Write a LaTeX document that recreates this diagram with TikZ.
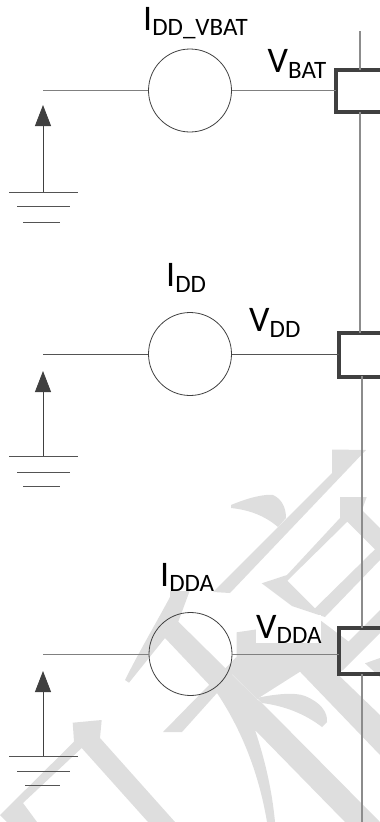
\documentclass[tikz,border=0pt]{standalone}
\usepackage{fontspec}
\setmainfont{Carlito}
\usepackage{tikz}
\usetikzlibrary{arrows.meta}
\definecolor{wmark}{RGB}{222,222,222}
\definecolor{darkline}{RGB}{64,64,64}
\newcommand{\lbl}[2]{#1\raisebox{-0.15em}{\fontsize{25}{28}\selectfont #2}}
\tikzset{
  srccirc/.style={circle,draw=darkline,line width=0.8pt,minimum size=83pt,inner sep=0pt},
  padbox/.style={rectangle,draw=darkline,line width=3.6pt,minimum width=74pt,inner sep=0pt,outer sep=0pt},
  txt/.style={anchor=base west,fill=white,inner sep=0pt,font=\fontsize{36}{39}\selectfont},
  wire/.style={draw=gray,line width=1pt},
  rail/.style={draw=gray!90,line width=1.3pt},
  sense/.style={draw=darkline,line width=0.9pt,-{Triangle[length=21pt,width=16pt]}},
  gnd/.style={draw=darkline!90,line width=0.8pt}
}
\begin{document}
\begin{tikzpicture}[x=1pt,y=-1pt]
     \useasboundingbox (0,0) rectangle (380,822);
     \clip (0,0) rectangle (380,822);
     % watermark
     \fill[wmark] (332,449.5) -- (366,450) -- (230,593) -- (213,592) -- (332,473) -- cycle;
     \fill[wmark] (231,505) .. controls (250,497) and (265,494) .. (273,495) .. controls (282,499) and (286,508) .. (286,518) -- (278,527) .. controls (265,516) and (250,510) .. (231,508) -- cycle;
     \fill[wmark,even odd rule] (340,497) -- (366.7,497) -- (362,510) -- (380,528) -- (380,560) -- (325,617) -- (292,606) -- (261.7,583.3) -- (287,575) -- (340,518) -- cycle
        (347.3,521.7) -- (375,549.3) -- (315,608.3) -- (287.3,580.7) -- cycle;
     \fill[wmark] (170,590) -- (190,590) -- (178.3,621.7) -- (256.7,699) -- (262,703) -- (380,822) -- (345,822) -- (255,730) .. controls (265,760) and (272,790) .. (275,822) -- (267,822) .. controls (260,780) and (245,735) .. (217,693) -- (165,638) -- (129,682.7) -- (125,680) .. controls (140,650) and (155,625) .. (170,597) -- cycle;
     \fill[wmark] (256.7,698) .. controls (275,694) and (295,692) .. (305,696) .. controls (320,702) and (328,712) .. (327,722) -- (322,727) .. controls (305,714) and (285,706) .. (262,703) -- cycle;
     \fill[wmark] (163,732) -- (182,732) -- (217,693) -- (236,670) -- (236.7,656.7) -- cycle;
     \fill[wmark] (236.7,632.3) -- (320,620) -- (348.5,641.5) -- (380,610) -- (380,633) -- (343,670) -- (336.7,673.3) -- (380,715) -- (380,755) -- (300,671.7) -- (257,699) -- (232,674) -- (236.7,656.7) -- cycle;
     \fill[wmark] (365,663.3) -- (380,658) -- (380,677) -- cycle;
     \fill[wmark] (0,815) -- (74,741.7) -- (72.7,722.7) -- (101.7,720) -- (100,738) -- (175,822) -- (148,822) -- (81.7,748) -- (23,803) -- (37,822) -- (7,822) -- cycle;
     % sources, pads
     \node[srccirc] (src1) at (190,90.5) {};
     \node[srccirc] (src2) at (190,354) {};
     \node[srccirc] (src3) at (190.5,654) {};
     \node[padbox,minimum height=42pt] (pad1) at (373,91) {};
     \node[padbox,minimum height=44pt] (pad2) at (375.7,355) {};
     \node[padbox,minimum height=46pt] (pad3) at (375.7,651) {};
     \coordinate (in1) at (43,90.5);
     \coordinate (in2) at (43,354);
     \coordinate (in3) at (43,654);
     \coordinate (tip1) at (43,105);
     \coordinate (tip2) at (43,371);
     \coordinate (tip3) at (43,671);
     \coordinate (gnd1) at (43,192);
     \coordinate (gnd2) at (43,456);
     \coordinate (gnd3) at (43,756);
     \coordinate (railtop) at (360,31);
     \coordinate (railmid) at (362,376);
     \coordinate (railend) at (362,822);
     % wires
     \draw[wire] (in1) -- (src1);
     \draw[wire] (src1) -- (src1 -| pad1.west);
     \draw[wire,draw=darkline!90] (in2) -- (src2);
     \draw[wire,draw=darkline!90] (src2) -- (src2 -| pad2.west);
     \draw[wire] (in3) -- (src3);
     \draw[wire] (src3) -- (src3 -| pad3.west);
     \draw[rail] (railtop) -- (railtop |- pad1.north);
     \draw[rail] (railtop |- pad1.south) -- (railtop |- pad2.north);
     \draw[rail] (railmid) -- (railmid |- pad3.north);
     \draw[rail] (railmid |- pad3.south) -- (railend);
     % arrows, grounds
     \draw[sense] (gnd1) -- (tip1);
     \draw[sense] (gnd2) -- (tip2);
     \draw[sense] (gnd3) -- (tip3);
     \draw[gnd] (9,192) -- (78,192) (17,206.5) -- (70,206.5) (23,222) -- (60,222);
     \draw[gnd] (9,456) -- (78,456) (17,472) -- (70,472) (23,486) -- (60,486);
     \draw[gnd] (9,756) -- (78,756) (17,771.5) -- (70,771.5) (25,785.5) -- (60,785.5);
     % labels
     \node[txt] (idd1) at (143,30) {\lbl{I}{DD\_VBAT}};
     \node[txt] (vdd1) at (267.5,72.7) {\lbl{V}{BAT}};
     \node[txt] (idd2) at (166,286.7) {\lbl{I}{DD}};
     \node[txt] (vdd2) at (249,331.7) {\lbl{V}{DD}};
     \node[txt] (idd3) at (160,586) {\lbl{I}{DDA}};
     \node[txt] (vdd3) at (256,638) {\lbl{V}{DDA}};
\end{tikzpicture}
\end{document}
